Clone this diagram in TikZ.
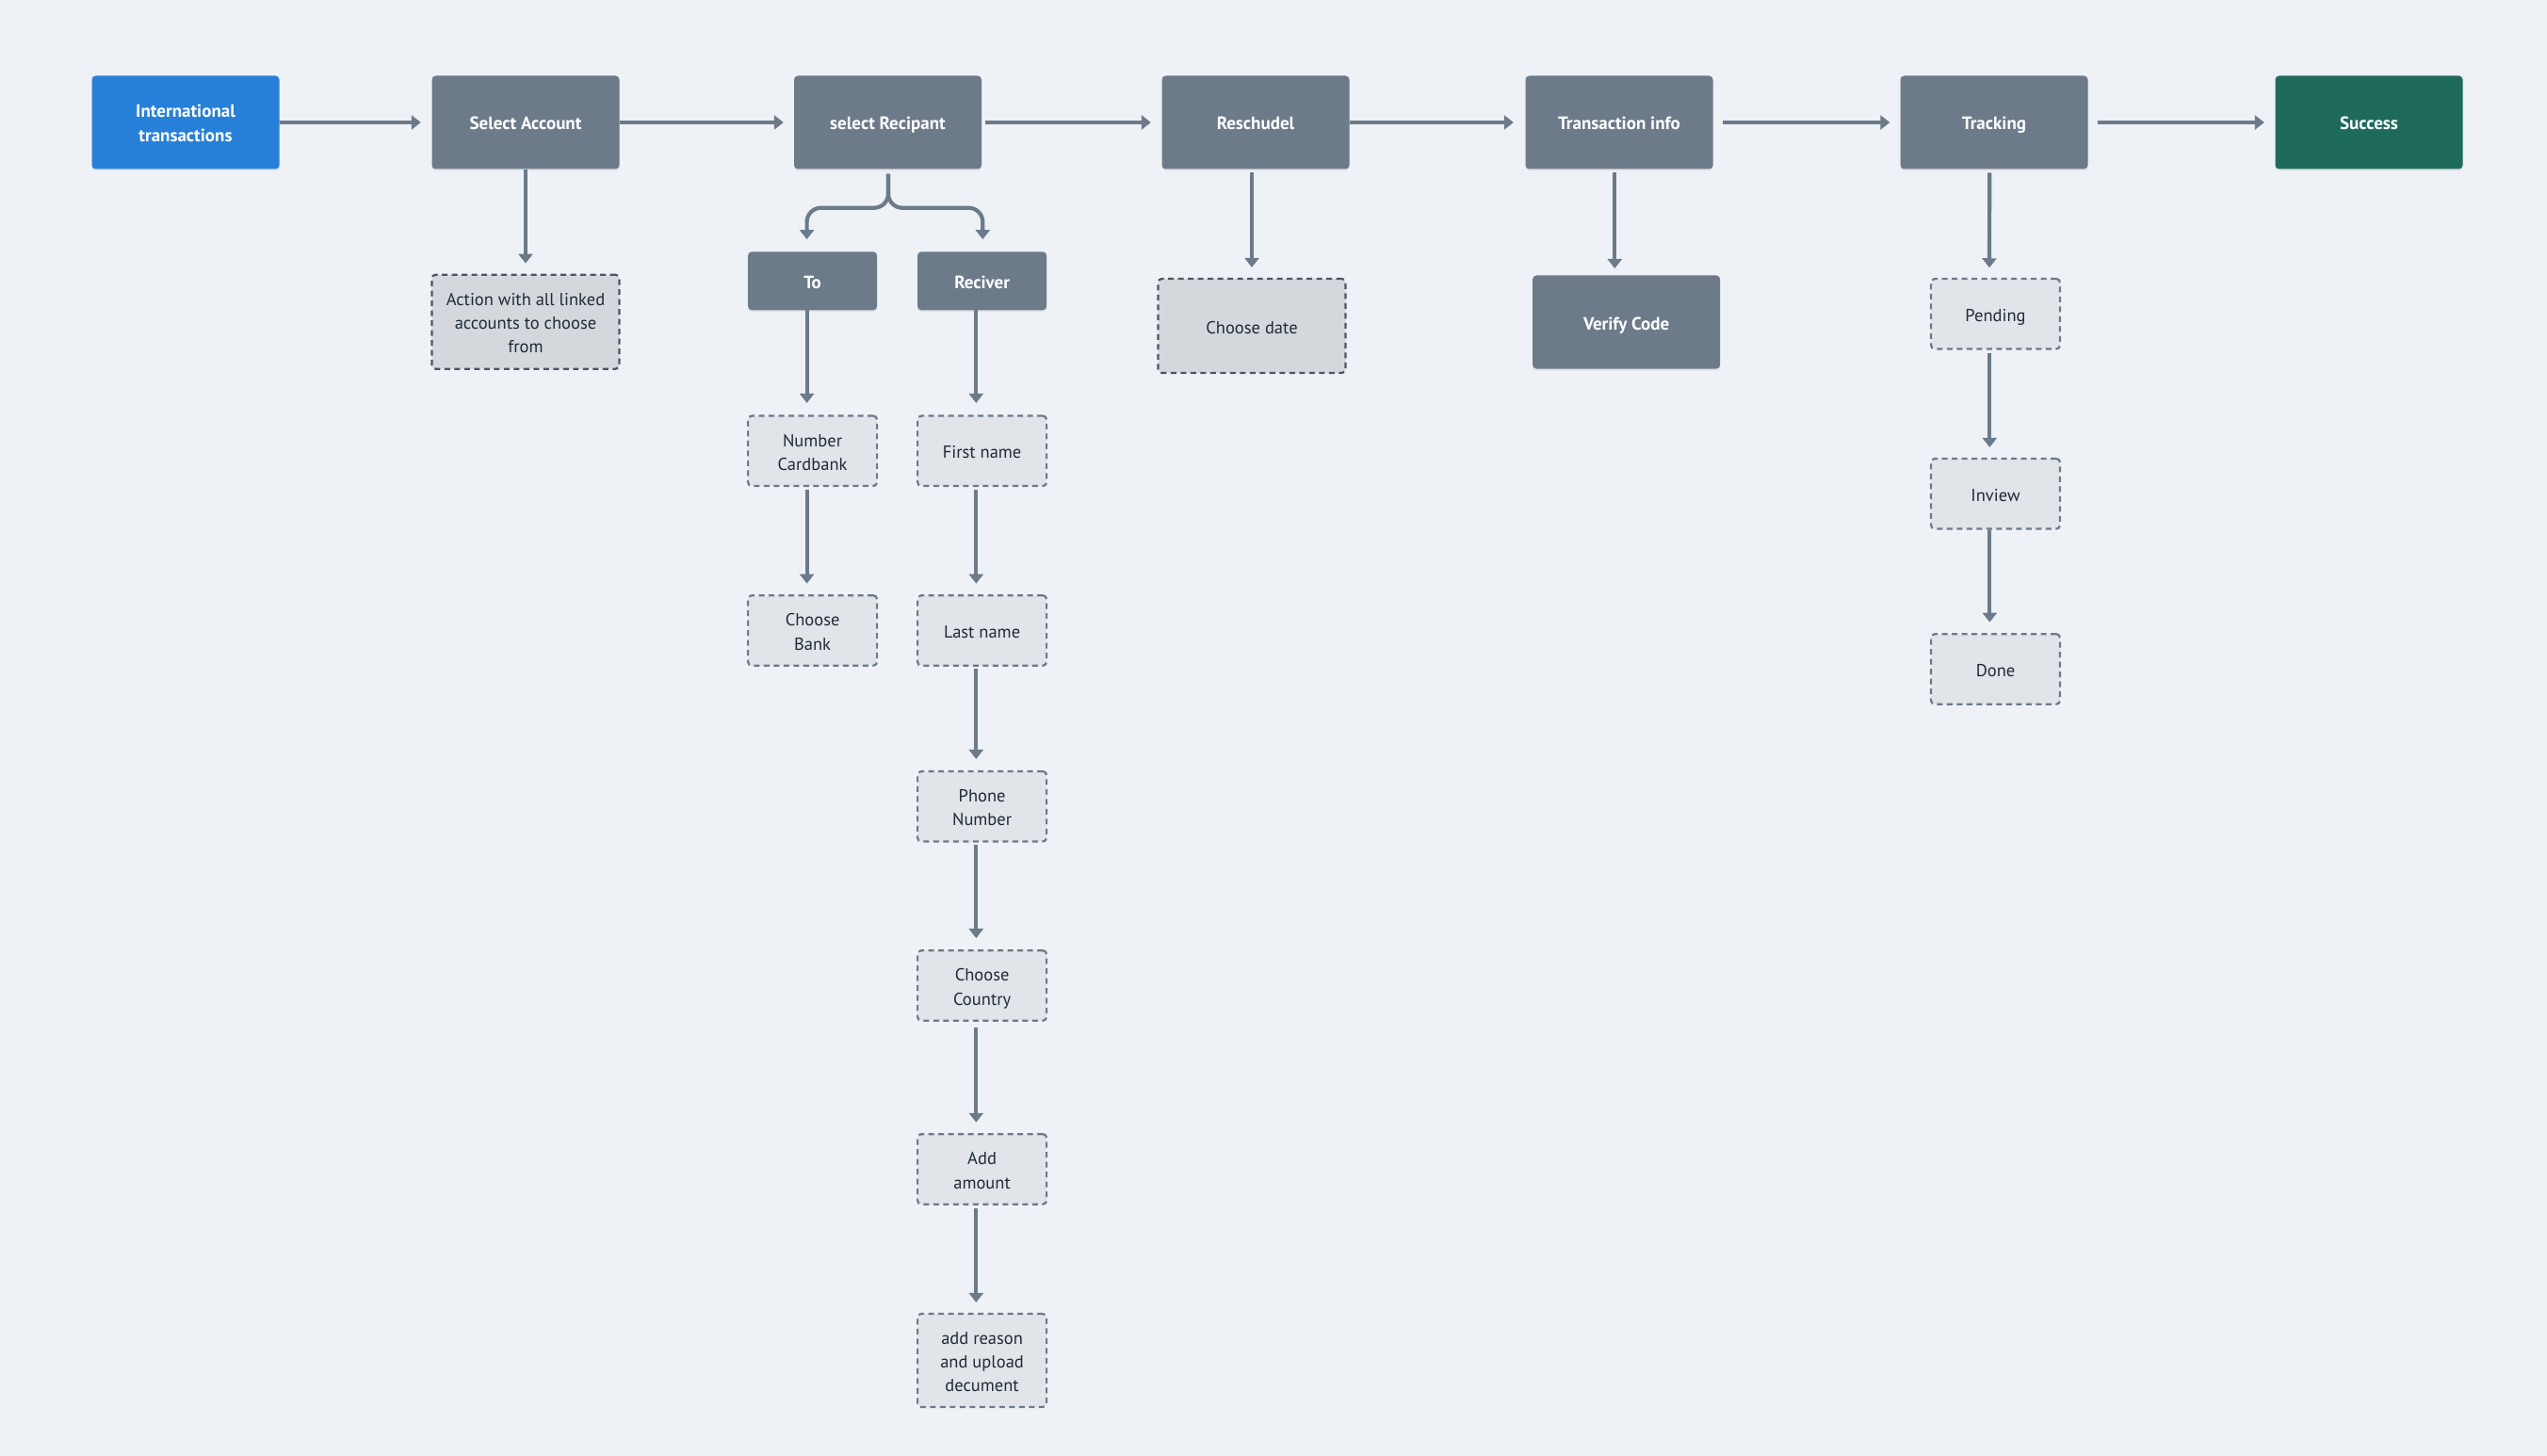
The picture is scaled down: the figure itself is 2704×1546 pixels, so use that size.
\documentclass[tikz,border=0pt]{standalone}
\usepackage{fontspec}
\setmainfont{PT Sans}
\usetikzlibrary{arrows.meta,calc,shadows}
\definecolor{bgc}{HTML}{EEF2F6}
\definecolor{slate}{HTML}{6C7A89}
\definecolor{bluec}{HTML}{2780D8}
\definecolor{greenc}{HTML}{1E6B5C}
\definecolor{lightfill}{HTML}{E1E4E8}
\definecolor{darkfill}{HTML}{D4D8DD}
\definecolor{darkborder}{HTML}{4B5563}
\definecolor{darktext}{HTML}{1F2A37}
\newcommand{\mystrut}{\rule[-5pt]{0pt}{26pt}}
\tikzset{
  mainbox/.style={rectangle, rounded corners=4pt, fill=slate, text=white,
    font=\bfseries\fontsize{19}{26}\selectfont, minimum width=199pt, minimum height=99pt,
    align=center, inner sep=0pt,
    execute at begin node={\mystrut}, execute at end node={\mystrut},
    drop shadow={opacity=0.12, shadow xshift=0pt, shadow yshift=-2pt}},
  subbox/.style={rectangle, rounded corners=4pt, draw=slate, line width=2.2pt,
    dash pattern=on 6pt off 4.5pt, fill=lightfill, text=darktext,
    font=\fontsize{18.5}{25.2}\selectfont, minimum width=137pt, minimum height=74.5pt,
    align=center, inner sep=0pt,
    execute at begin node={\mystrut}, execute at end node={\mystrut}},
  bigsub/.style={subbox, draw=darkborder, fill=darkfill, minimum width=199pt, minimum height=100pt},
  smallhead/.style={mainbox, minimum width=137pt, minimum height=62pt},
  conn/.style={draw=slate, line width=4.2pt, -{Triangle[length=10pt,width=15pt]}},
}
\begin{document}
\begin{tikzpicture}[x=1pt,y=-1pt]
\fill[bgc] (0,0) rectangle (2704,1546);
\useasboundingbox (0,0) rectangle (2704,1546);

% main row
\node[mainbox, fill=bluec] (intl) at (197,130) {\mystrut International\\transactions};
\node[mainbox] (selacc) at (558,130) {Select Account};
\node[mainbox] (selrec) at (942.5,130) {select Recipant};
\node[mainbox] (resch) at (1333,130) {Reschudel};
\node[mainbox] (trans) at (1719,130) {Transaction info};
\node[mainbox] (track) at (2117,130) {Tracking};
\node[mainbox, fill=greenc] (succ) at (2515,130) {Success};

% sub nodes
\node[bigsub] (action) at (558,341.7) {\mystrut Action with all linked\\accounts to choose\\from};
\node[smallhead] (to) at (862.6,298.3) {To};
\node[smallhead] (rec) at (1042.6,298.3) {Reciver};
\node[subbox] (num) at (862.6,478.8) {\mystrut Number\\Cardbank};
\node[subbox] (bank) at (862.6,669.5) {\mystrut Choose\\Bank};
\node[subbox] (first) at (1042.6,478.8) {First name};
\node[subbox] (last) at (1042.6,669.5) {Last name};
\node[subbox] (phone) at (1042.6,856.3) {\mystrut Phone\\Number};
\node[subbox] (country) at (1042.6,1046.5) {\mystrut Choose\\Country};
\node[subbox] (amount) at (1042.6,1241.4) {\mystrut Add\\amount};
\node[subbox, minimum height=99pt] (reason) at (1042.6,1444.5) {\mystrut add reason\\and upload\\decument};
\node[bigsub] (cdate) at (1329,346) {Choose date};
\node[mainbox] (verify) at (1726.6,342) {Verify Code};
\node[subbox] (pend) at (2118.5,333.3) {Pending};
\node[subbox] (inview) at (2118.5,524.3) {Inview};
\node[subbox] (done) at (2118.5,710.5) {Done};

% horizontal connectors
\draw[conn, shorten >=11.5pt] (intl.east) -- (selacc.west);
\draw[conn, shorten >=11pt] (selacc.east) -- (selrec.west);
\draw[conn, shorten <=3.5pt, shorten >=11.5pt] (selrec.east) -- (resch.west);
\draw[conn, shorten >=12.5pt] (resch.east) -- (trans.west);
\draw[conn, shorten <=10pt, shorten >=11pt] (trans.east) -- (track.west);
\draw[conn, shorten <=10pt, shorten >=11.5pt] (track.east) -- (succ.west);

% vertical connectors from main row
\draw[conn, shorten >=11pt] (selacc.south) -- (action.north);
\draw[conn, shorten <=3.7pt, shorten >=11pt] (resch.south -| cdate.north) -- (cdate.north);
\coordinate (tv1) at ($(trans.south)+(-4.7,0)$);
\coordinate (tv2) at ($(verify.north)+(-12.3,0)$);
\draw[conn, shorten <=3.7pt, shorten >=7.3pt] (tv1) -- (tv2);
\coordinate (tp1) at ($(track.south)+(-4.8,0)$);
\coordinate (tp2) at ($(pend.north)+(-6.5,0)$);
\draw[conn, shorten <=3.7pt, shorten >=10.7pt] (tp1) -- (tp2);

% branch from select Recipant
\coordinate (bstart) at ($(selrec.south)+(0.5,5)$);
\coordinate (bmid) at ($(selrec.south)+(0.5,41)$);
\coordinate (toin) at ($(to.north)+(-6,0)$);
\coordinate (recin) at ($(rec.north)+(0.7,0)$);
\draw[conn, rounded corners=15pt, shorten >=13pt] (bstart) -- (bmid) -- (toin |- bmid) -- (toin);
\draw[conn, rounded corners=15pt, shorten >=13pt] (bstart) -- (bmid) -- (recin |- bmid) -- (recin);

% To column
\draw[conn, shorten >=12.5pt] ($(to.south)+(-6,0)$) -- ($(num.north)+(-6,0)$);
\draw[conn, shorten <=3pt, shorten >=11.5pt] ($(num.south)+(-6,0)$) -- ($(bank.north)+(-6,0)$);

% Reciver column
\draw[conn, shorten >=12.5pt] ($(rec.south)+(-6.3,0)$) -- ($(first.north)+(-6.3,0)$);
\draw[conn, shorten <=3pt, shorten >=11.5pt] ($(first.south)+(-6.3,0)$) -- ($(last.north)+(-6.3,0)$);
\draw[conn, shorten <=2.5pt, shorten >=12pt] ($(last.south)+(-6.3,0)$) -- ($(phone.north)+(-6.3,0)$);
\draw[conn, shorten <=2pt, shorten >=12pt] ($(phone.south)+(-6.3,0)$) -- ($(country.north)+(-6.3,0)$);
\draw[conn, shorten <=6.5pt, shorten >=11.3pt] ($(country.south)+(-6.3,0)$) -- ($(amount.north)+(-6.3,0)$);
\draw[conn, shorten <=3.3pt, shorten >=11pt] ($(amount.south)+(-6.3,0)$) -- ($(reason.north)+(-6.3,0)$);

% Tracking column
\draw[conn, shorten <=3.3pt, shorten >=11pt] ($(pend.south)+(-6.2,0)$) -- ($(inview.north)+(-6.2,0)$);
\draw[conn, shorten >=11.5pt] ($(inview.south)+(-6.2,0)$) -- ($(done.north)+(-6.2,0)$);
\end{tikzpicture}
\end{document}
